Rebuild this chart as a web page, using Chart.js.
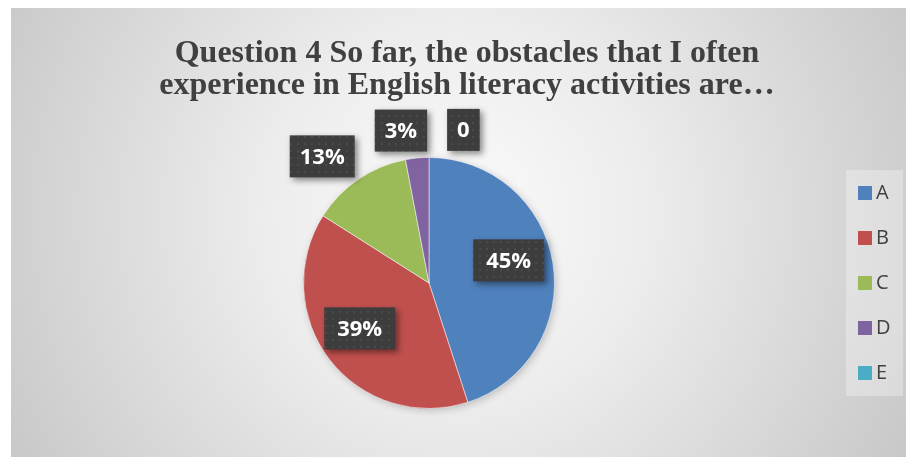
<!DOCTYPE html>
<html>
<head>
<meta charset="utf-8">
<script src="https://cdn.jsdelivr.net/npm/chart.js@4/dist/chart.umd.min.js"></script>
<style>
  html, body { margin: 0; padding: 0; background: #fff; }
  #wrap { position: relative; width: 909px; height: 457px; }
</style>
</head>
<body>
<div id="wrap"><canvas id="obstacles-chart" width="909" height="457"></canvas></div>
<script>
// Question 4 answers (percent of respondents)
var categories = ['A', 'B', 'C', 'D', 'E'];
var answerShares = [45, 39, 13, 3, 0];
var sliceColors = ['#4f81bd', '#c0504d', '#9bbb59', '#8064a2', '#4bacc6'];
var titleLines = ['Question 4 So far, the obstacles that I often', 'experience in English literacy activities are\u2026'];

// dotted fill used behind the value labels
function labelPattern(ctx) {
  var p = document.createElement('canvas');
  p.width = 7; p.height = 7;
  var pc = p.getContext('2d');
  pc.fillStyle = '#3d3d3d';
  pc.fillRect(0, 0, 7, 7);
  pc.fillStyle = '#4a4a4a';
  pc.fillRect(3, 3, 2, 2);
  return ctx.createPattern(p, 'repeat');
}

var frame = {
  id: 'frame',
  beforeDraw: function(chart) {
    var ctx = chart.ctx;
    ctx.save();
    ctx.fillStyle = '#fff';
    ctx.fillRect(0, 0, chart.width, chart.height);
    var g = ctx.createRadialGradient(455, 215, 0, 455, 215, 560);
    g.addColorStop(0, '#fbfbfb');
    g.addColorStop(0.35, '#ececec');
    g.addColorStop(1, '#c2c2c2');
    ctx.fillStyle = g;
    ctx.fillRect(11, 8, 895, 449);

    // title
    ctx.fillStyle = '#404040';
    ctx.font = 'bold 32px "Liberation Serif"';
    ctx.textAlign = 'center';
    ctx.textBaseline = 'alphabetic';
    titleLines.forEach(function(line, i) {
      ctx.fillText(line, 467, 62 + i * 32);
    });

    // legend
    ctx.fillStyle = 'rgba(255,255,255,0.3)';
    ctx.fillRect(846, 170, 57, 226);
    var ds = chart.data.datasets[0];
    ctx.font = '20px "Open Sans"';
    ctx.textAlign = 'left';
    ctx.textBaseline = 'middle';
    chart.data.labels.forEach(function(lbl, i) {
      var y = 193 + i * 45;
      ctx.fillStyle = ds.backgroundColor[i];
      ctx.fillRect(858, y - 7, 14, 14);
      ctx.fillStyle = '#404040';
      ctx.fillText(lbl, 876, y);
    });
    ctx.restore();
  },
  beforeDatasetsDraw: function(chart) {
    var arc = chart.getDatasetMeta(0).data[0];
    if (!arc) return;
    var ctx = chart.ctx;
    ctx.save();
    ctx.shadowColor = 'rgba(0,0,0,0.25)';
    ctx.shadowBlur = 8;
    ctx.shadowOffsetX = 2;
    ctx.shadowOffsetY = 2;
    ctx.fillStyle = '#ddd';
    ctx.beginPath();
    ctx.arc(arc.x, arc.y, arc.outerRadius - 1, 0, Math.PI * 2);
    ctx.fill();
    ctx.restore();
  }
};

var valueLabels = {
  id: 'valueLabels',
  afterDatasetsDraw: function(chart) {
    var ctx = chart.ctx;
    var meta = chart.getDatasetMeta(0);
    var values = chart.data.datasets[0].data;
    var total = values.reduce(function(a, b) { return a + b; }, 0);
    ctx.save();
    ctx.font = 'bold 22px "Open Sans"';
    var inside = [], outside = [];
    meta.data.forEach(function(arc, i) {
      var v = values[i];
      var text = v === 0 ? '0' : Math.round(v / total * 100) + '%';
      var mid = (arc.startAngle + arc.endAngle) / 2;
      var big = v / total > 0.2;
      // big slices: label inside, turned a little toward the top
      if (big) mid += Math.cos(mid) > 0 ? -0.12 : 0.08;
      var dist = arc.outerRadius * (big ? 0.66 : 1.22);
      var w = ctx.measureText(text).width;
      var item = {
        text: text,
        x: arc.x + Math.cos(mid) * dist,
        y: arc.y + Math.sin(mid) * dist,
        w: w + (big ? 26 : 20),
        h: 42
      };
      (big ? inside : outside).push(item);
    });

    // spread the small outside labels so they do not overlap
    outside.sort(function(a, b) { return a.x - b.x; });
    var moved = 0;
    for (var i = 1; i < outside.length; i++) {
      var prev = outside[i - 1], cur = outside[i];
      var minX = prev.x + prev.w / 2 + 20 + cur.w / 2;
      var s = Math.max(0, minX - cur.x);
      cur.x += s;
      moved += s;
    }
    // re-centre the group on its anchors
    var shift = outside.length ? moved / outside.length : 0;
    outside.forEach(function(o) { o.x -= shift; });

    var fill = labelPattern(ctx);
    inside.concat(outside).forEach(function(o) {
      ctx.save();
      ctx.shadowColor = 'rgba(0,0,0,0.45)';
      ctx.shadowBlur = 6;
      ctx.shadowOffsetX = 3;
      ctx.shadowOffsetY = 3;
      ctx.fillStyle = fill;
      ctx.fillRect(o.x - o.w / 2, o.y - o.h / 2, o.w, o.h);
      ctx.restore();
      ctx.fillStyle = '#fff';
      ctx.textAlign = 'center';
      ctx.textBaseline = 'middle';
      ctx.fillText(o.text, o.x, o.y + 1);
    });
    ctx.restore();
  }
};

new Chart(document.getElementById('obstacles-chart'), {
  type: 'pie',
  data: {
    labels: categories,
    datasets: [{
      data: answerShares,
      backgroundColor: sliceColors,
      borderColor: 'rgba(255,255,255,0.5)',
      borderWidth: 1
    }]
  },
  options: {
    responsive: false,
    animation: false,
    layout: { padding: { left: 303, right: 354, top: 157, bottom: 48 } },
    plugins: {
      legend: { display: false },
      title: { display: false },
      tooltip: { enabled: false }
    }
  },
  plugins: [frame, valueLabels]
});
</script>
</body>
</html>
